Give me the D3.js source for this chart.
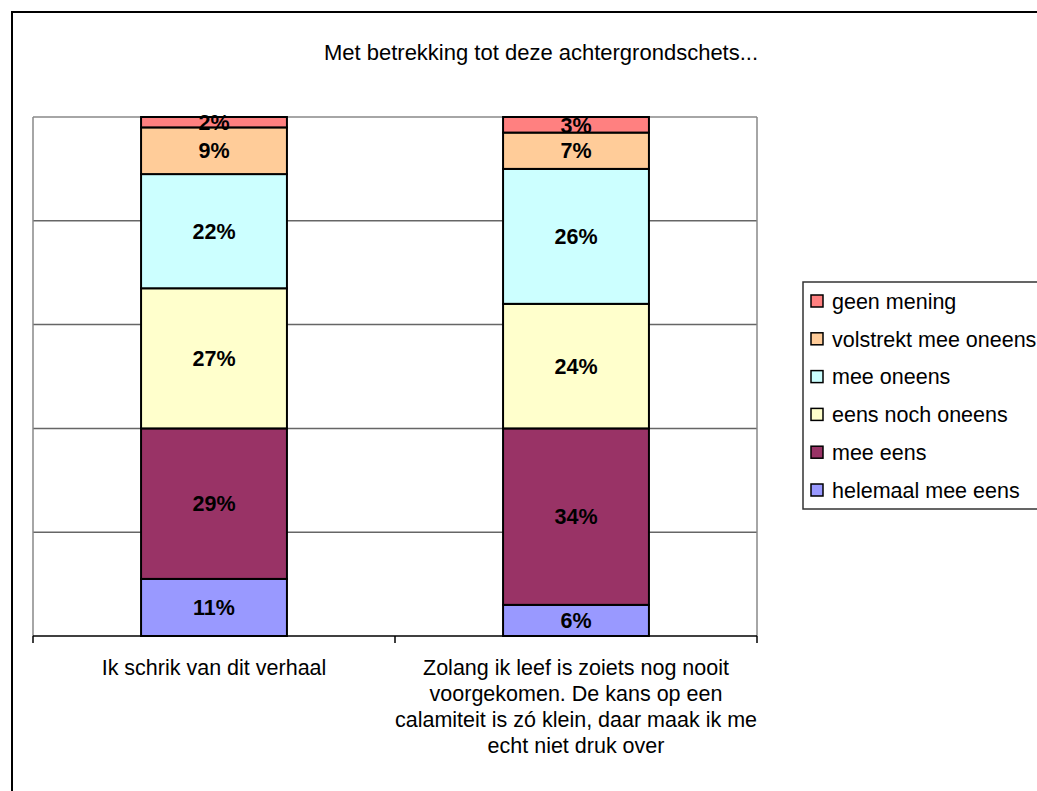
<!DOCTYPE html>
<html>
<head>
<meta charset="utf-8">
<script src="https://cdn.jsdelivr.net/npm/d3@7"></script>
<style>
  html, body { margin: 0; padding: 0; background: #fff; }
  svg { display: block; font-family: "Liberation Sans", Arial, sans-serif; }
</style>
</head>
<body>
<svg id="chart" width="1037" height="791"></svg>
<script>
// --- data ---
const title = "Met betrekking tot deze achtergrondschets...";
const categories = [
  ["Ik schrik van dit verhaal"],
  ["Zolang ik leef  is zoiets nog nooit", "voorgekomen. De kans op een",
   "calamiteit is zó klein, daar maak ik me", "echt niet druk over"]
];
// stacked bottom -> top
const seriesNames = ["helemaal mee eens", "mee eens", "eens noch oneens",
                     "mee oneens", "volstrekt mee oneens", "geen mening"];
const seriesColors = ["#9999FF", "#993366", "#FFFFCC", "#CCFFFF", "#FFCC99", "#FF8080"];
const helemaalMeeEens = [11, 6];
const meeEens = [29, 34];
const eensNochOneens = [27, 24];
const meeOneens = [22, 26];
const volstrektMeeOneens = [9, 7];
const geenMening = [2, 3];
const yTicks = [0, 20, 40, 60, 80, 100];

const seriesValues = [helemaalMeeEens, meeEens, eensNochOneens, meeOneens, volstrektMeeOneens, geenMening];

// --- layout ---
const svg = d3.select("#chart");
const plot = {left: 33, top: 117, right: 757, bottom: 636};

// outer chart border (runs off the right / bottom edge)
svg.append("rect")
  .attr("x", 12).attr("y", 12)
  .attr("width", 1100).attr("height", 900)
  .attr("fill", "none").attr("stroke", "#000").attr("stroke-width", 2);

svg.append("text")
  .attr("x", 541).attr("y", 60)
  .attr("text-anchor", "middle")
  .style("font-size", "22px")
  .text(title);

const x = d3.scaleBand()
  .domain(d3.range(categories.length))
  .range([plot.left, plot.right])
  .paddingInner(0)
  .paddingOuter(0);

const y = d3.scaleLinear().domain([0, 100]).range([plot.bottom, plot.top]);

// gridlines
svg.append("g").selectAll("line")
  .data(yTicks.slice(1))
  .join("line")
  .attr("x1", plot.left).attr("x2", plot.right)
  .attr("y1", d => y(d)).attr("y2", d => y(d))
  .attr("stroke", d => d === 100 ? "#888" : "#666")
  .attr("stroke-width", 1.5);

// plot area side edges
svg.append("line")
  .attr("x1", plot.left).attr("x2", plot.left)
  .attr("y1", plot.top).attr("y2", plot.bottom)
  .attr("stroke", "#888").attr("stroke-width", 1.5);
svg.append("line")
  .attr("x1", plot.right).attr("x2", plot.right)
  .attr("y1", plot.top).attr("y2", plot.bottom)
  .attr("stroke", "#888").attr("stroke-width", 1.5);

// stack
const rows = categories.map((c, i) => {
  const r = {i};
  seriesNames.forEach((s, k) => { r[s] = seriesValues[k][i]; });
  return r;
});
const stacked = d3.stack().keys(seriesNames)(rows);

const barW = x.bandwidth() * 0.403;
const barX = i => x(i) + (x.bandwidth() - barW) / 2;

const layer = svg.append("g").selectAll("g")
  .data(stacked)
  .join("g")
  .attr("fill", (d, k) => seriesColors[k]);

layer.selectAll("rect")
  .data(d => d)
  .join("rect")
  .attr("x", d => barX(d.data.i))
  .attr("width", barW)
  .attr("y", d => y(d[1]))
  .attr("height", d => y(d[0]) - y(d[1]))
  .attr("stroke", "#000")
  .attr("stroke-width", 2);

// value labels
layer.selectAll("text")
  .data(d => d)
  .join("text")
  .attr("x", d => barX(d.data.i) + barW / 2)
  .attr("y", d => (y(d[0]) + y(d[1])) / 2)
  .attr("dy", "0.36em")
  .attr("text-anchor", "middle")
  .attr("fill", "#000")
  .style("font-size", "21.5px")
  .style("font-weight", "bold")
  .text(d => (d[1] - d[0]) + "%");

// category axis
const xAxis = svg.append("g");
xAxis.append("line")
  .attr("x1", plot.left).attr("x2", plot.right)
  .attr("y1", plot.bottom).attr("y2", plot.bottom)
  .attr("stroke", "#000").attr("stroke-width", 1.5);
xAxis.selectAll("line.tick")
  .data(d3.range(categories.length + 1))
  .join("line")
  .attr("class", "tick")
  .attr("x1", i => plot.left + i * x.bandwidth())
  .attr("x2", i => plot.left + i * x.bandwidth())
  .attr("y1", plot.bottom).attr("y2", plot.bottom + 7)
  .attr("stroke", "#000").attr("stroke-width", 1.5);

xAxis.selectAll("text")
  .data(categories)
  .join("text")
  .attr("text-anchor", "middle")
  .style("font-size", "21.5px")
  .each(function(lines, i) {
    d3.select(this).selectAll("tspan")
      .data(lines)
      .join("tspan")
      .attr("x", x(i) + x.bandwidth() / 2)
      .attr("y", (l, j) => 675 + j * 26)
      .text(l => l);
  });

// legend (top entry first)
const legend = svg.append("g");
legend.append("rect")
  .attr("x", 803).attr("y", 282)
  .attr("width", 300).attr("height", 227)
  .attr("fill", "#fff").attr("stroke", "#333").attr("stroke-width", 1.5);

const legendItems = seriesNames.map((s, k) => ({name: s, color: seriesColors[k]})).reverse();
const li = legend.selectAll("g.item")
  .data(legendItems)
  .join("g")
  .attr("class", "item")
  .attr("transform", (d, j) => `translate(0, ${301 + j * 37.8})`);
li.append("rect")
  .attr("x", 811).attr("y", -6)
  .attr("width", 12).attr("height", 12)
  .attr("fill", d => d.color)
  .attr("stroke", "#000").attr("stroke-width", 1.5);
li.append("text")
  .attr("x", 832).attr("dy", "0.36em")
  .style("font-size", "21.5px")
  .text(d => d.name);
</script>
</body>
</html>
